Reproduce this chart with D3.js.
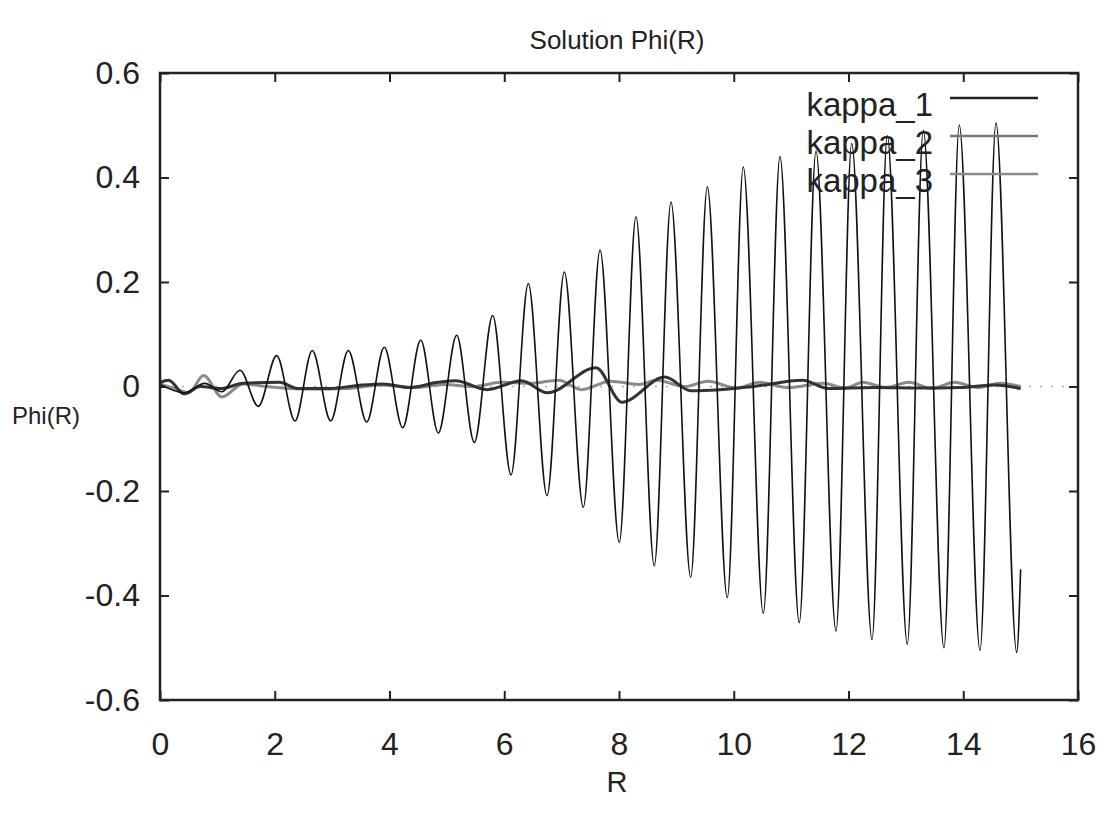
<!DOCTYPE html>
<html>
<head>
<meta charset="utf-8">
<script src="https://cdn.jsdelivr.net/npm/d3@7"></script>
<style>
  body { margin: 0; background: #fff; }
  svg text { font-family: "Liberation Sans", Arial, sans-serif; fill: #222; }
</style>
</head>
<body>
<div id="chart"></div>
<script>
// data: [R, Phi]
var kappa1 = [
  [0, 0.004], [0.42, -0.012], [0.78, 0.006], [1.08, -0.01],
  [1.394, 0.031], [1.713, -0.038], [2.034, 0.059], [2.353, -0.066],
  [2.654, 0.069], [2.975, -0.066], [3.282, 0.069], [3.603, -0.068],
  [3.909, 0.075], [4.230, -0.079], [4.544, 0.089], [4.851, -0.089],
  [5.171, 0.098], [5.478, -0.107], [5.799, 0.136], [6.118, -0.169],
  [6.419, 0.197], [6.745, -0.209], [7.047, 0.219], [7.378, -0.231],
  [7.669, 0.261], [8.005, -0.298], [8.296, 0.325], [8.615, -0.343],
  [8.906, 0.353], [9.250, -0.365], [9.539, 0.382], [9.888, -0.404],
  [10.166, 0.420], [10.515, -0.434], [10.806, 0.440], [11.142, -0.452],
  [11.434, 0.450], [11.782, -0.468], [12.056, 0.465], [12.410, -0.484],
  [12.676, 0.480], [13.025, -0.493], [13.304, 0.490], [13.664, -0.500],
  [13.931, 0.500], [14.292, -0.505], [14.571, 0.504], [14.932, -0.509],
  [15.0, -0.35]
];

var kappa2 = [
  [0, 0.008], [0.15, 0.012], [0.42, -0.014], [0.7, 0.0], [1.05, -0.004],
  [1.45, 0.006], [2.08, 0.008], [2.4, -0.004], [2.95, -0.004], [3.45, 0.002],
  [3.88, 0.005], [4.35, -0.002], [4.85, 0.008], [5.15, 0.011], [5.7, -0.006],
  [6.3, 0.011], [6.75, -0.012], [7.6, 0.036], [8.05, -0.030], [8.8, 0.018],
  [9.25, -0.008], [9.75, -0.006], [10.35, 0.0], [11.2, 0.012], [11.65, -0.004],
  [12.45, -0.002], [13.25, -0.003], [13.95, -0.002], [14.55, 0.003], [15.0, -0.004]
];

var kappa3 = [
  [0, 0.005], [0.25, -0.004], [0.5, -0.012], [0.76, 0.021], [1.08, -0.020],
  [1.45, 0.005], [1.85, 0.0], [2.25, -0.004], [2.75, -0.005], [3.25, -0.004],
  [3.85, 0.003], [4.45, -0.002], [4.95, 0.004], [5.45, 0.0], [5.95, 0.008],
  [6.45, 0.006], [6.95, 0.012], [7.35, -0.006], [7.85, 0.010], [8.35, 0.004],
  [8.65, 0.012], [9.15, 0.0], [9.55, 0.010], [10.05, -0.003], [10.45, 0.008],
  [10.95, -0.002], [11.55, 0.006], [11.95, -0.003], [12.25, 0.008], [12.65, -0.002],
  [13.05, 0.008], [13.45, -0.004], [13.85, 0.008], [14.25, -0.002], [14.65, 0.006],
  [15.0, 0.0]
];

var seriesNames = ["kappa_1", "kappa_2", "kappa_3"];
var xTicks = [0, 2, 4, 6, 8, 10, 12, 14, 16];
var yTicks = [-0.6, -0.4, -0.2, 0, 0.2, 0.4, 0.6];

var width = 1108, height = 818;
var plotL = 160, plotR = 1078, plotT = 73, plotB = 700;

var svg = d3.select("#chart").append("svg")
    .attr("width", width)
    .attr("height", height);

var x = d3.scaleLinear().domain([0, 16]).range([plotL, plotR]);
var y = d3.scaleLinear().domain([-0.6, 0.6]).range([plotB, plotT]);

//dotted zero axis
svg.append("line")
  .attr("x1", x(0)).attr("x2", x(16))
  .attr("y1", y(0)).attr("y2", y(0))
  .attr("stroke", "#aaa")
  .attr("stroke-width", 1.5)
  .attr("stroke-dasharray", "2,9");

//axes with inward ticks, gnuplot style
var fmtY = function(d) { return d === 0 ? "0" : d3.format(".1f")(d).replace("\u2212", "-"); };

var gb = svg.append("g")
  .attr("transform", "translate(0," + plotB + ")")
  .call(d3.axisBottom(x).tickValues(xTicks).tickSizeInner(-9).tickSizeOuter(0).tickPadding(32));
var gl = svg.append("g")
  .attr("transform", "translate(" + plotL + ",0)")
  .call(d3.axisLeft(y).tickValues(yTicks).tickFormat(fmtY).tickSizeInner(-9).tickSizeOuter(0).tickPadding(20));
var gt = svg.append("g")
  .attr("transform", "translate(0," + plotT + ")")
  .call(d3.axisTop(x).tickValues(xTicks).tickFormat("").tickSizeInner(-9).tickSizeOuter(0));
var gr = svg.append("g")
  .attr("transform", "translate(" + plotR + ",0)")
  .call(d3.axisRight(y).tickValues(yTicks).tickFormat("").tickSizeInner(-9).tickSizeOuter(0));

[gb, gl, gt, gr].forEach(function(g) {
  g.select(".domain").remove();
  g.selectAll(".tick line").attr("stroke", "#222").attr("stroke-width", 2);
  g.selectAll(".tick text")
    .attr("font-size", 32)
    .attr("font-family", "Liberation Sans, Arial, sans-serif")
    .attr("fill", "#222");
});

//curves
var line = d3.line()
  .x(d => x(d[0]))
  .y(d => y(d[1]))
  .curve(d3.curveMonotoneX);

var series = [
  {name: seriesNames[0], data: kappa1, color: "#111", w: 1.6},
  {name: seriesNames[1], data: kappa2, color: "#333", w: 3},
  {name: seriesNames[2], data: kappa3, color: "#8a8a8a", w: 3}
];

// near-zero curves first, the big oscillation on top
[series[2], series[1], series[0]].forEach(function(s) {
  svg.append("path")
    .datum(s.data)
    .attr("fill", "none")
    .attr("stroke", s.color)
    .attr("stroke-width", s.w)
    .attr("stroke-linejoin", "round")
    .attr("d", line);
});

//frame
svg.append("rect")
  .attr("x", plotL).attr("y", plotT)
  .attr("width", plotR - plotL).attr("height", plotB - plotT)
  .attr("fill", "none")
  .attr("stroke", "#222")
  .attr("stroke-width", 2.5);

//legend
var legendColors = ["#222", "#777", "#8a8a8a"];
series.forEach(function(s, i) {
  var ly = 98 + i * 38;
  svg.append("line")
    .attr("x1", 950).attr("x2", 1038)
    .attr("y1", ly).attr("y2", ly)
    .attr("stroke", legendColors[i])
    .attr("stroke-width", 2.5);
  svg.append("text")
    .attr("x", 933).attr("y", ly + 18)
    .attr("text-anchor", "end")
    .attr("font-size", 33)
    .text(s.name);
});

//titles
svg.append("text")
  .attr("x", 617).attr("y", 49)
  .attr("text-anchor", "middle")
  .attr("font-size", 26)
  .text("Solution Phi(R)");

svg.append("text")
  .attr("x", 617).attr("y", 792)
  .attr("text-anchor", "middle")
  .attr("font-size", 29)
  .text("R");

svg.append("text")
  .attr("x", 12).attr("y", 424)
  .attr("font-size", 24)
  .text("Phi(R)");
</script>
</body>
</html>
